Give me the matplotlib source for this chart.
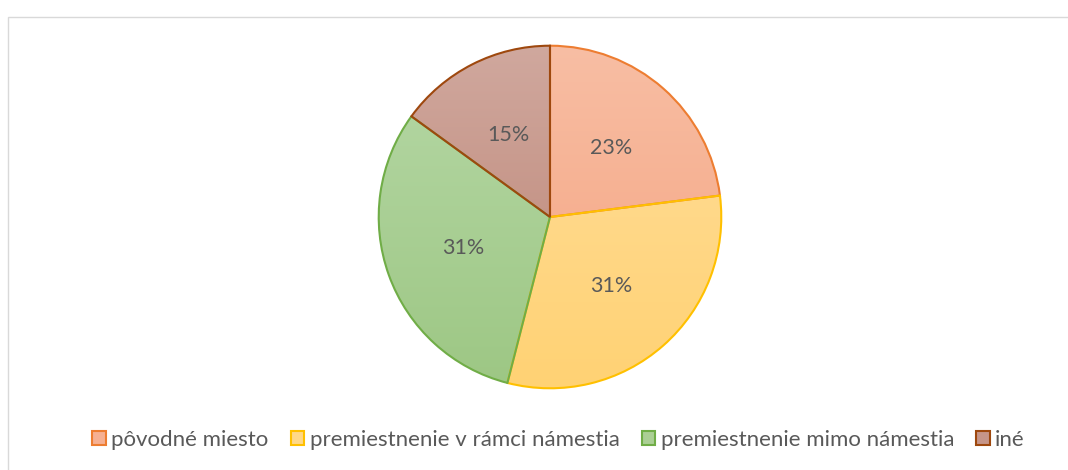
import numpy as np
import matplotlib
matplotlib.use("Agg")
import matplotlib.pyplot as plt
from matplotlib.patches import Patch, Rectangle
from matplotlib.colors import LinearSegmentedColormap

categories = ["pôvodné miesto", "premiestnenie v rámci námestia",
              "premiestnenie mimo námestia", "iné"]
values = [23, 31, 31, 15]

top_colors = ["#F8BEA4", "#FFDE9C", "#B6D8A6", "#D0A89E"]
bottom_colors = ["#F4A27E", "#FFD274", "#9DC784", "#BB8272"]
edge_colors = ["#ED7D31", "#FFC000", "#70AD47", "#9E480E"]
legend_colors = ["#F6B092", "#FFD888", "#ABCF95", "#C69588"]
text_color = "#595959"

plt.rcParams['font.family'] = ['Lato', 'DejaVu Sans']

W, H = 1068, 470
fig = plt.figure(figsize=(W / 100, H / 100), dpi=100)
fig.patch.set_facecolor("white")

# chart border
fig.add_artist(Rectangle((7.5 / W, -0.1), 1.2, 1 - 16.5 / H + 0.1,
                         transform=fig.transFigure, fill=False,
                         edgecolor="#D9D9D9", linewidth=1.0))

cx, cy, r = 550, 217, 173
ax = fig.add_axes([(cx - r) / W, (H - cy - r) / H, 2 * r / W, 2 * r / H])

wedges, texts, autotexts = ax.pie(
    values, startangle=90, counterclock=False, radius=1,
    autopct=lambda p: f"{p:.0f}%", pctdistance=0.54,
    wedgeprops=dict(linewidth=1.5, facecolor="none"),
    textprops=dict(color=text_color, fontsize=15.5))

for w, ec, tc, bc in zip(wedges, edge_colors, top_colors, bottom_colors):
    w.set_edgecolor(ec)
    w.set_zorder(3)
    cmap = LinearSegmentedColormap.from_list("g", [bc, tc])
    grad = np.linspace(0, 1, 256).reshape(-1, 1)
    im = ax.imshow(grad, cmap=cmap, extent=(-1, 1, -1, 1), origin="lower",
                   aspect="auto", zorder=1, interpolation="bilinear")
    im.set_clip_path(w)

for t in autotexts:
    t.set_zorder(5)

ax.set_xlim(-1.01, 1.01)
ax.set_ylim(-1.01, 1.01)
ax.set_aspect("equal")
ax.axis("off")

handles = [Patch(facecolor=lc, edgecolor=ec, linewidth=1.5)
           for lc, ec in zip(legend_colors, edge_colors)]
fig.legend(handles, categories, loc="center", bbox_to_anchor=(0.523, 1 - 440 / H),
           ncol=4, frameon=False, fontsize=16, labelcolor=text_color,
           handlelength=0.6, handleheight=0.6, handletextpad=0.25,
           columnspacing=1.0)

fig.savefig("out.png", dpi=100, facecolor="white")
